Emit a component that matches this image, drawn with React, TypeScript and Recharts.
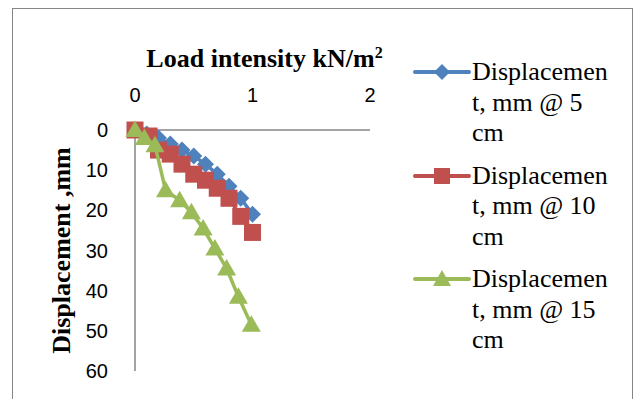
import React from "react";
import { ScatterChart, Scatter, XAxis, YAxis, Legend } from "recharts";

// load intensity (kN/m²) vs displacement (mm)
const load5 = [0, 0.1, 0.2, 0.3, 0.4, 0.5, 0.6, 0.7, 0.8, 0.9, 1.0];
const disp5 = [0, 1, 2, 3.5, 5, 6.5, 8.5, 11, 14, 17, 21];

const load10 = [0, 0.12, 0.2, 0.3, 0.4, 0.5, 0.6, 0.7, 0.8, 0.9, 1.0];
const disp10 = [0, 1.5, 5, 6, 8.5, 11, 12.5, 14.5, 17, 21.5, 25.5];

const load15 = [0, 0.08, 0.17, 0.26, 0.38, 0.48, 0.58, 0.68, 0.78, 0.88, 0.99];
const disp15 = [0, 2, 3.8, 15, 17.5, 20.5, 24.5, 29.5, 34.5, 41.5, 48.5];

const xTicks = [0, 1, 2];
const yTicks = [0, 10, 20, 30, 40, 50, 60];

const legendLines = [
  ["Displacemen", "t, mm @ 5", "cm"],
  ["Displacemen", "t, mm @ 10", "cm"],
  ["Displacemen", "t, mm @ 15", "cm"],
];

const BLUE = "#4F81BD";
const RED = "#C0504D";
const GREEN = "#9BBB59";
const AXIS = "#868686";
const SERIF = "'Liberation Serif', 'Times New Roman', serif";
const SANS = "'Liberation Sans', Arial, sans-serif";

const zip = (xs: number[], ys: number[]) => xs.map((x, i) => ({ x, y: ys[i] }));

const Diamond = ({ cx, cy }: any) => (
  <polygon points={`${cx},${cy - 8.5} ${cx + 8.5},${cy} ${cx},${cy + 8.5} ${cx - 8.5},${cy}`} fill={BLUE} />
);
const Square = ({ cx, cy }: any) => <rect x={cx - 8.5} y={cy - 8.5} width={17} height={17} fill={RED} />;
const Triangle = ({ cx, cy }: any) => (
  <polygon points={`${cx},${cy - 9.5} ${cx + 9.5},${cy + 7} ${cx - 9.5},${cy + 7}`} fill={GREEN} />
);

const symbols = [
  { color: BLUE, mark: (c: number) => <polygon points={`${c},2 ${c + 8},10 ${c},18 ${c - 8},10`} fill={BLUE} /> },
  { color: RED, mark: (c: number) => <rect x={c - 8} y={2} width={16} height={16} fill={RED} /> },
  { color: GREEN, mark: (c: number) => <polygon points={`${c},1 ${c + 9},17 ${c - 9},17`} fill={GREEN} /> },
];

const LegendBox = () => (
  <div style={{ fontFamily: SERIF, fontSize: 26, lineHeight: "30.5px", color: "#000" }}>
    {legendLines.map((lines, i) => (
      <div key={i} style={{ display: "flex", marginBottom: 12 }}>
        <svg width={60} height={20} style={{ marginTop: 5, flex: "none" }}>
          <line x1={3} x2={57} y1={10} y2={10} stroke={symbols[i].color} strokeWidth={4} strokeLinecap="round" />
          {symbols[i].mark(30)}
        </svg>
        <div>
          {lines.map((l) => (
            <div key={l}>{l}</div>
          ))}
        </div>
      </div>
    ))}
  </div>
);

const XTitle = ({ viewBox }: any) => {
  const cx = viewBox.x + viewBox.width / 2 + 12;
  return (
    <text x={cx} y={viewBox.y - 33} textAnchor="middle" fontFamily={SERIF} fontWeight="bold" fontSize={26} fill="#000">
      Load intensity kN/m
      <tspan dy={-9} fontSize={16}>2</tspan>
    </text>
  );
};

const YTitle = ({ viewBox }: any) => {
  const cx = viewBox.x - 14;
  const cy = viewBox.y + viewBox.height / 2;
  return (
    <text
      x={cx}
      y={cy}
      transform={`rotate(-90, ${cx}, ${cy})`}
      textAnchor="middle"
      dominantBaseline="central"
      fontFamily={SERIF}
      fontWeight="bold"
      fontSize={26}
      fill="#000"
    >
      Displacement ,mm
    </text>
  );
};

export default function App() {
  return (
    <div style={{ position: "absolute", left: 0, top: 0, width: 638, height: 399, background: "#fff", overflow: "hidden" }}>
      <div
        style={{
          position: "absolute",
          left: 12,
          top: 8,
          width: 619,
          height: 400,
          border: `1.5px solid ${AXIS}`,
          borderBottom: "none",
        }}
      />
      <ScatterChart width={638} height={399} margin={{ top: 100, right: 268, bottom: 28, left: 75 }}>
        <XAxis
          type="number"
          dataKey="x"
          orientation="top"
          domain={[0, 2]}
          ticks={xTicks}
          height={30}
          axisLine={{ stroke: AXIS, strokeWidth: 1.5 }}
          tickLine={false}
          tickSize={0}
          tickMargin={28}
          tick={{ fill: "#000", fontSize: 20, fontFamily: SANS }}
          label={<XTitle />}
        />
        <YAxis
          type="number"
          dataKey="y"
          reversed
          domain={[0, 60]}
          ticks={yTicks}
          width={60}
          axisLine={{ stroke: AXIS, strokeWidth: 1.5 }}
          tickLine={false}
          tickSize={0}
          tickMargin={27}
          tick={{ fill: "#000", fontSize: 20, fontFamily: SANS }}
          label={<YTitle />}
        />
        <Legend
          layout="horizontal"
          align="center"
          verticalAlign="middle"
          wrapperStyle={{ position: "absolute", left: 412, top: 57, width: 224, height: "auto" }}
          content={() => <LegendBox />}
        />
        <Scatter
          name="Displacement, mm @ 5 cm"
          data={zip(load5, disp5)}
          line={{ stroke: BLUE, strokeWidth: 3.5 }}
          shape={<Diamond />}
          isAnimationActive={false}
        />
        <Scatter
          name="Displacement, mm @ 10 cm"
          data={zip(load10, disp10)}
          line={{ stroke: RED, strokeWidth: 3.5 }}
          shape={<Square />}
          isAnimationActive={false}
        />
        <Scatter
          name="Displacement, mm @ 15 cm"
          data={zip(load15, disp15)}
          line={{ stroke: GREEN, strokeWidth: 3.5 }}
          shape={<Triangle />}
          isAnimationActive={false}
        />
      </ScatterChart>
    </div>
  );
}
